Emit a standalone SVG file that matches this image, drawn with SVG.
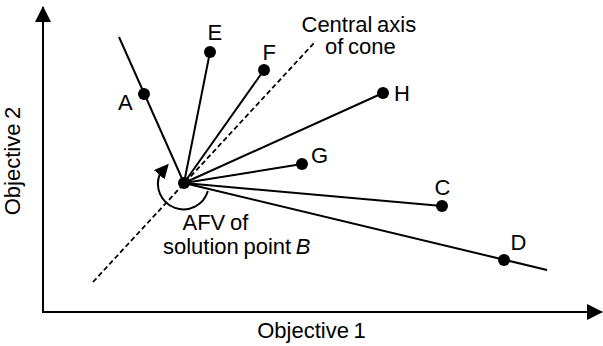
<svg xmlns="http://www.w3.org/2000/svg" width="603" height="346" viewBox="0 0 603 346">
<defs>
<style>
text{font-family:"Liberation Sans",Arial,sans-serif;font-size:22px;fill:#000;word-spacing:-1.5px}
.ln{stroke:#000;stroke-width:2;fill:none}
.dash{stroke:#000;stroke-width:1.8;fill:none;stroke-dasharray:5,3}
.dot{fill:#000}
</style>
<marker id="ah" markerWidth="16" markerHeight="16" refX="15" refY="8" orient="auto" markerUnits="userSpaceOnUse">
<path d="M0,0 L16,8 L0,16 Z" fill="#000"/>
</marker>
<marker id="ah2" markerWidth="15" markerHeight="14" refX="1" refY="7" orient="-48.7" markerUnits="userSpaceOnUse">
<path d="M0,0 L14.5,7 L0,14 Z" fill="#000"/>
</marker>
</defs>
<g id="axes">
<line class="ln" x1="43" y1="312" x2="43" y2="7" marker-end="url(#ah)"/>
<line class="ln" x1="42" y1="312" x2="602" y2="312" marker-end="url(#ah)"/>
<text x="311.5" y="338" text-anchor="middle">Objective 1</text>
<text transform="translate(19.5,161) rotate(-90)" text-anchor="middle">Objective 2</text>
</g>
<g id="connectors">
<line class="ln" x1="184" y1="183" x2="119" y2="37"/>
<line class="ln" x1="184" y1="183" x2="210" y2="52"/>
<line class="ln" x1="184" y1="183" x2="264" y2="70"/>
<line class="ln" x1="184" y1="183" x2="383" y2="93"/>
<line class="ln" x1="184" y1="183" x2="302" y2="164"/>
<line class="ln" x1="184" y1="183" x2="442" y2="206"/>
<line class="ln" x1="184" y1="183" x2="547" y2="270"/>
<line class="dash" x1="93" y1="282" x2="314" y2="43"/>
<path class="ln" d="M207.9,191 A25.5,25.5 0 1 1 159.9,174" marker-end="url(#ah2)"/>
</g>
<g id="B"><circle class="dot" cx="184" cy="183" r="6"/>
<text x="182.5" y="229.5">AFV of</text>
<text x="163" y="253.5">solution point <tspan font-style="italic">B</tspan></text></g>
<g id="A"><circle class="dot" cx="144" cy="94" r="6"/><text x="118" y="110">A</text></g>
<g id="E"><circle class="dot" cx="210" cy="52" r="6"/><text x="207.5" y="40">E</text></g>
<g id="F"><circle class="dot" cx="264" cy="70" r="6"/><text x="262.5" y="60">F</text></g>
<g id="H"><circle class="dot" cx="383" cy="93" r="6"/><text x="394" y="100.5">H</text></g>
<g id="G"><circle class="dot" cx="302" cy="164" r="6"/><text x="311" y="163">G</text></g>
<g id="C"><circle class="dot" cx="442" cy="206" r="6"/><text x="434.5" y="194.5">C</text></g>
<g id="D"><circle class="dot" cx="504" cy="260" r="6"/><text x="510.5" y="250">D</text></g>
<g id="axis-label">
<text x="301.5" y="31.5">Central axis</text>
<text x="325" y="54">of cone</text>
</g>
</svg>
